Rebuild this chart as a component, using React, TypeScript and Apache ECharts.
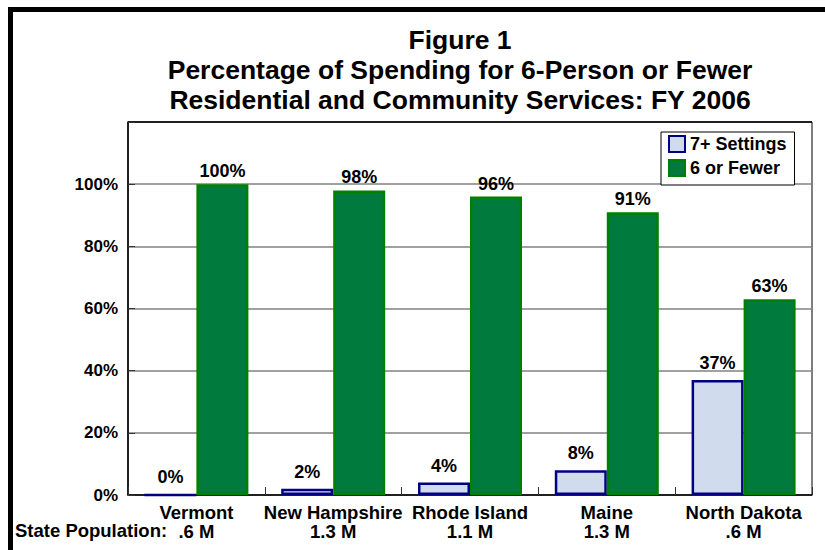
import React, { useEffect, useRef } from "react";
import * as echarts from "echarts";

const states = ["Vermont", "New Hampshire", "Rhode Island", "Maine", "North Dakota"];
const populations = [".6 M", "1.3 M", "1.1 M", "1.3 M", ".6 M"];
const sevenPlus = [0, 2, 4, 8, 37];
const sixOrFewer = [100, 98, 96, 91, 63];
const yTicks = [0, 20, 40, 60, 80, 100, 120];

const FONT = "Arial, 'Liberation Sans', Helvetica, sans-serif";

export default function App() {
  const ref = useRef<HTMLDivElement>(null);
  useEffect(() => {
    if (!ref.current) return;
    const chart = echarts.init(ref.current, null, { renderer: "svg" });
    const categories = states.map((s, i) => s + "\n" + populations[i]);
    chart.setOption({
      animation: false,
      backgroundColor: "#ffffff",
      textStyle: { fontFamily: FONT },
      title: {
        text: "Figure 1\nPercentage of Spending for 6-Person or Fewer\nResidential and Community Services: FY 2006",
        left: 455,
        top: 20,
        textAlign: "center",
        textStyle: {
          fontFamily: FONT,
          fontSize: 26.5,
          fontWeight: "bold",
          lineHeight: 30,
          color: "#000",
        },
      },
      legend: {
        orient: "vertical",
        left: 661,
        top: 132,
        padding: [3, 8, 8, 7],
        itemWidth: 16,
        itemHeight: 16,
        itemGap: 6,
        backgroundColor: "#fff",
        borderColor: "#000",
        borderWidth: 1,
        icon: "rect",
        textStyle: { fontFamily: FONT, fontSize: 18, fontWeight: "bold", color: "#000" },
        data: ["7+ Settings", "6 or Fewer"],
      },
      grid: {
        left: 128,
        right: 13,
        top: 122,
        bottom: 55,
        show: true,
        borderColor: "#000",
        borderWidth: 1,
        backgroundColor: "transparent",
      },
      xAxis: {
        type: "category",
        data: categories,
        axisLine: { lineStyle: { color: "#000", width: 1.5 } },
        axisTick: { show: true, inside: true, length: 8, lineStyle: { color: "#333" } },
        axisLabel: {
          fontFamily: FONT,
          fontSize: 18.5,
          fontWeight: "bold",
          color: "#000",
          lineHeight: 19,
          margin: 8,
          interval: 0,
        },
      },
      yAxis: {
        type: "value",
        min: 0,
        max: 120,
        interval: 20,
        axisLine: { show: true, lineStyle: { color: "#000", width: 1.5 } },
        axisTick: { show: true, inside: true, length: 7, lineStyle: { color: "#333" } },
        splitLine: {
          show: true,
          lineStyle: {
            color: yTicks.map((v) => (v === 120 ? "#000" : "#808080")),
            width: 1.5,
          },
        },
        axisLabel: {
          fontFamily: FONT,
          fontSize: 17,
          fontWeight: "bold",
          color: "#000",
          margin: 10,
          formatter: (v: number) => (v >= 120 ? "" : v + "%"),
        },
      },
      series: [
        {
          name: "7+ Settings",
          type: "bar",
          data: sevenPlus,
          barWidth: 52,
          barGap: "0%",
          itemStyle: { color: "#d0dbed", borderColor: "#000080", borderWidth: 2.5 },
          label: {
            show: true,
            position: "top",
            distance: 8,
            formatter: "{c}%",
            fontFamily: FONT,
            fontSize: 18,
            fontWeight: "bold",
            color: "#000",
          },
        },
        {
          name: "6 or Fewer",
          type: "bar",
          data: sixOrFewer,
          barWidth: 52,
          barGap: "0%",
          itemStyle: { color: "#007a3d", borderColor: "#008000", borderWidth: 2.5 },
          label: {
            show: true,
            position: "top",
            distance: 4,
            formatter: "{c}%",
            fontFamily: FONT,
            fontSize: 18,
            fontWeight: "bold",
            color: "#000",
          },
        },
      ],
      graphic: [
        {
          type: "rect",
          shape: { x: 10.5, y: 9.5, width: 900, height: 700 },
          style: { fill: "none", stroke: "#000", lineWidth: 5 },
          silent: true,
        },
        {
          type: "text",
          x: 15,
          y: 530,
          style: {
            text: "State Population:",
            fontFamily: FONT,
            fontSize: 18.5,
            fontWeight: "bold",
            fill: "#000",
            verticalAlign: "middle",
          },
        },
      ],
    });
    return () => chart.dispose();
  }, []);
  return (
    <div
      ref={ref}
      style={{ position: "absolute", left: 0, top: 0, width: 825, height: 550 }}
    />
  );
}
